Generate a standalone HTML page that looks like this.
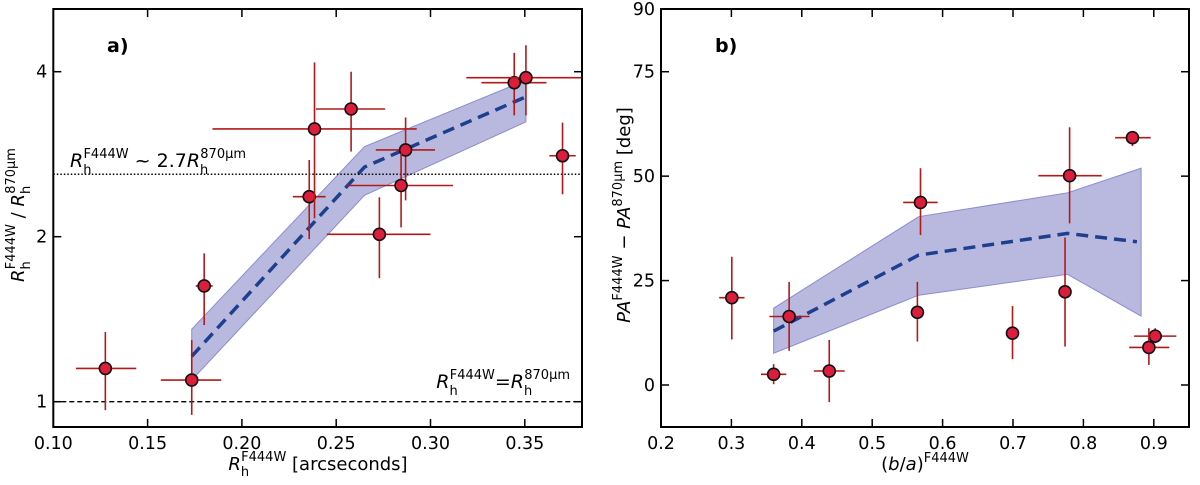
<!DOCTYPE html>
<html><head><meta charset="utf-8"><style>
html,body{margin:0;padding:0;background:#fff;}
svg{display:block;font-family:"DejaVu Sans","Liberation Sans",sans-serif;}
</style></head><body>
<svg id="fig" width="1200" height="485" viewBox="0 0 1200 485"></svg>
<script>
// ---- Panel a data ----
const aX = [0.1276,0.1734,0.180,0.2357,0.2385,0.2579,0.2868,0.2844,0.2729,0.3444,0.3506,0.370];
const aY = [1.15,1.095,1.626,2.366,3.145,3.42,2.88,2.48,2.02,3.82,3.90,2.81];
const aXlo = [0.112,0.157,0.1755,0.227,0.1844,0.2393,0.271,0.256,0.245,0.327,0.319,0.363];
const aXhi = [0.144,0.189,0.1845,0.2444,0.2927,0.2759,0.3024,0.3119,0.300,0.3615,0.385,0.377];
const aYlo = [0.965,0.946,1.38,1.98,2.16,2.86,2.33,2.08,1.68,3.33,3.33,2.39];
const aYhi = [1.34,1.295,1.865,2.76,4.16,4.0,3.30,2.84,2.36,4.33,4.47,3.23];
const aBandX = [0.1734,0.2650,0.3506];
const aBandMid = [1.21,2.68,3.60];
const aBandUp = [1.356,2.92,3.86];
const aBandLo = [1.095,2.38,3.24];
const aXTicks = [0.10,0.15,0.20,0.25,0.30,0.35];
const aXTickLabels = ["0.10","0.15","0.20","0.25","0.30","0.35"];
const aYTicks = [1,2,4];
const aYTickLabels = ["1","2","4"];
const aRefLine = 2.6;
// ---- Panel b data ----
const bX = [0.3006,0.360,0.382,0.439,0.5686,0.5642,0.6993,0.7804,0.7739,0.8697,0.902,0.893];
const bY = [20.9,2.55,16.4,3.35,43.7,17.4,12.4,50.1,22.3,59.2,11.7,9.0];
const bXlo = [0.2826,0.342,0.354,0.417,0.544,0.5642,0.6933,0.736,0.7739,0.845,0.872,0.865];
const bXhi = [0.3186,0.378,0.411,0.461,0.593,0.5642,0.7053,0.826,0.7739,0.8956,0.932,0.922];
const bYlo = [10.9,0.2,8.2,-4.1,35.9,10.4,6.2,38.7,9.2,57.2,10,4.8];
const bYhi = [30.7,5,24.7,10.8,51.9,24.7,18.9,61.7,35.3,60.8,13.6,13.6];
const bBandX = [0.360,0.566,0.7774,0.882];
const bBandMid = [12.9,31.1,36.3,34.3];
const bBandUp = [18.4,40.3,46.0,51.9];
const bBandLo = [7.6,21.5,26.5,16.5];
const bXTicks = [0.2,0.3,0.4,0.5,0.6,0.7,0.8,0.9];
const bXTickLabels = ["0.2","0.3","0.4","0.5","0.6","0.7","0.8","0.9"];
const bYTicks = [0,25,50,75,90];
const bYTickLabels = ["0","25","50","75","90"];

const NS="http://www.w3.org/2000/svg";
const svg=document.getElementById('fig');
function mk(tag,attrs,parent){const e=document.createElementNS(NS,tag);for(const k in attrs)e.setAttribute(k,attrs[k]);(parent||svg).appendChild(e);return e;}

const aL=53.3,aR=582,aT=9,aB=427;
const ax=v=>53.3+(v-0.10)*1886;
const ay=v=>401.7-Math.log2(v)*165;
const bL=661,bR=1189,bT=9,bB=427;
const bx=v=>661+(v-0.2)*704;
const by=v=>385-v*4.177;

function panel(name,L,R,T,B,fx,fy,BX,BM,BU,BLo,lastMidX){
  const g=mk('g',{});
  
  
  const clipId=name+'-clip';
  const cp=mk('clipPath',{id:clipId},g);mk('rect',{x:L,y:T,width:R-L,height:B-T},cp);
  const plot=mk('g',{'clip-path':'url(#'+clipId+')'},g);
  let pts=[];
  for(let i=0;i<BX.length;i++)pts.push(fx(BX[i])+','+fy(BU[i]));
  for(let i=BX.length-1;i>=0;i--)pts.push(fx(BX[i])+','+fy(BLo[i]));
  const band=mk('polygon',{points:pts.join(' '),fill:'#b9b9e0',stroke:'#8c8cd0','stroke-width':1},plot);
  
  
  let mp=[];
  for(let i=0;i<BX.length;i++){let xv=BX[i];if(i===BX.length-1&&lastMidX)xv=lastMidX;mp.push(fx(xv)+','+fy(BM[i]));}
  const ml=mk('polyline',{points:mp.join(' '),fill:'none',stroke:'#1d3f8e','stroke-width':3.5,'stroke-dasharray':'12,7'},plot);
  
  
  return {g,plot};
}
function points(plot,fx,fy,X,Y,Xlo,Xhi,Ylo,Yhi){
  for(let i=0;i<X.length;i++){
    const eg=mk('g',{},plot);
    
    
    mk('line',{x1:fx(Xlo[i]),x2:fx(Xhi[i]),y1:fy(Y[i]),y2:fy(Y[i]),stroke:'#b21a1a','stroke-width':1.6},eg);
    mk('line',{x1:fx(X[i]),x2:fx(X[i]),y1:fy(Ylo[i]),y2:fy(Yhi[i]),stroke:'#b21a1a','stroke-width':1.6},eg);
    mk('circle',{cx:fx(X[i]),cy:fy(Y[i]),r:6,fill:'#dc1e3c',stroke:'#111','stroke-width':1.6},eg);
  }
}
function axes(g,L,R,T,B,fx,fy,xt,xtl,yt,ytl,pre){
  for(let i=0;i<xt.length;i++){
    const x=fx(xt[i]);
    mk('line',{x1:x,x2:x,y1:B,y2:B-8,stroke:'#000','stroke-width':1.5},g);
    mk('line',{x1:x,x2:x,y1:T,y2:T+8,stroke:'#000','stroke-width':1.5},g);
    const t=mk('text',{x:x,y:B+22,'text-anchor':'middle','font-size':17.5},g);
    t.textContent=xtl[i];
    
    
  }
  for(let i=0;i<yt.length;i++){
    const y=fy(yt[i]);
    mk('line',{x1:L,x2:L+8,y1:y,y2:y,stroke:'#000','stroke-width':1.5},g);
    mk('line',{x1:R,x2:R-8,y1:y,y2:y,stroke:'#000','stroke-width':1.5},g);
    const t=mk('text',{x:L-6,y:y+6,'text-anchor':'end','font-size':17.5},g);
    t.textContent=ytl[i];
    
    
  }
  const fr=mk('rect',{x:L,y:T,width:R-L,height:B-T,fill:'none',stroke:'#000','stroke-width':2},g);
  
  
}

const pa=panel('panel-a',aL,aR,aT,aB,ax,ay,aBandX,aBandMid,aBandUp,aBandLo);
const l1=mk('line',{x1:aL,x2:aR,y1:ay(1),y2:ay(1),stroke:'#000','stroke-width':1.4,'stroke-dasharray':'5,3'},pa.plot);


const l2=mk('line',{x1:aL,x2:aR,y1:ay(aRefLine),y2:ay(aRefLine),stroke:'#000','stroke-width':1.5,'stroke-dasharray':'1.5,2'},pa.plot);


points(pa.plot,ax,ay,aX,aY,aXlo,aXhi,aYlo,aYhi);
axes(pa.g,aL,aR,aT,aB,ax,ay,aXTicks,aXTickLabels,aYTicks,aYTickLabels,'a-');

const pb=panel('panel-b',bL,bR,bT,bB,bx,by,bBandX,bBandMid,bBandUp,bBandLo,0.876);
points(pb.plot,bx,by,bX,bY,bXlo,bXhi,bYlo,bYhi);
axes(pb.g,bL,bR,bT,bB,bx,by,bXTicks,bXTickLabels,bYTicks,bYTickLabels,'b-');
</script>
<svg width="1200" height="485" style="position:absolute;left:0;top:0">
  <text x="107" y="52" font-size="19" font-weight="bold" font-family="DejaVu Sans,sans-serif">a)</text>
  <text x="715" y="52" font-size="19" font-weight="bold" font-family="DejaVu Sans,sans-serif">b)</text>
  <text x="70" y="167" font-size="19" font-family="DejaVu Sans,sans-serif"><tspan font-style="italic">R</tspan><tspan font-size="13" dy="7">h</tspan><tspan font-size="13" dy="-16" dx="-8">F444W</tspan><tspan dy="9"> ~ 2.7</tspan><tspan font-style="italic">R</tspan><tspan font-size="13" dy="7">h</tspan><tspan font-size="13" dy="-16" dx="-8">870µm</tspan></text>
  <text x="570" y="388" text-anchor="end" font-size="19" font-family="DejaVu Sans,sans-serif"><tspan font-style="italic">R</tspan><tspan font-size="13" dy="7">h</tspan><tspan font-size="13" dy="-16" dx="-8">F444W</tspan><tspan dy="9">=</tspan><tspan font-style="italic">R</tspan><tspan font-size="13" dy="7">h</tspan><tspan font-size="13" dy="-16" dx="-8">870µm</tspan></text>
  <text x="318" y="470" text-anchor="middle" font-size="18" font-family="DejaVu Sans,sans-serif"><tspan font-style="italic">R</tspan><tspan font-size="13" dy="6">h</tspan><tspan font-size="13" dy="-15" dx="-8">F444W</tspan><tspan dy="9"> [arcseconds]</tspan></text>
  <text transform="translate(24,215) rotate(-90)" text-anchor="middle" font-size="18" font-family="DejaVu Sans,sans-serif"><tspan font-style="italic">R</tspan><tspan font-size="13" dy="6">h</tspan><tspan font-size="13" dy="-15" dx="-8">F444W</tspan><tspan dy="9"> / </tspan><tspan font-style="italic">R</tspan><tspan font-size="13" dy="6">h</tspan><tspan font-size="13" dy="-15" dx="-8">870µm</tspan></text>
  <text x="925" y="470" text-anchor="middle" font-size="18" font-family="DejaVu Sans,sans-serif">(<tspan font-style="italic">b</tspan>/<tspan font-style="italic">a</tspan>)<tspan font-size="13" dy="-8">F444W</tspan></text>
  <text transform="translate(630,215) rotate(-90)" text-anchor="middle" font-size="18" font-family="DejaVu Sans,sans-serif"><tspan font-style="italic">PA</tspan><tspan font-size="13" dy="-8">F444W</tspan><tspan dy="8"> − </tspan><tspan font-style="italic">PA</tspan><tspan font-size="13" dy="-8">870µm</tspan><tspan dy="8"> [deg]</tspan></text>
</svg>
</body></html>
